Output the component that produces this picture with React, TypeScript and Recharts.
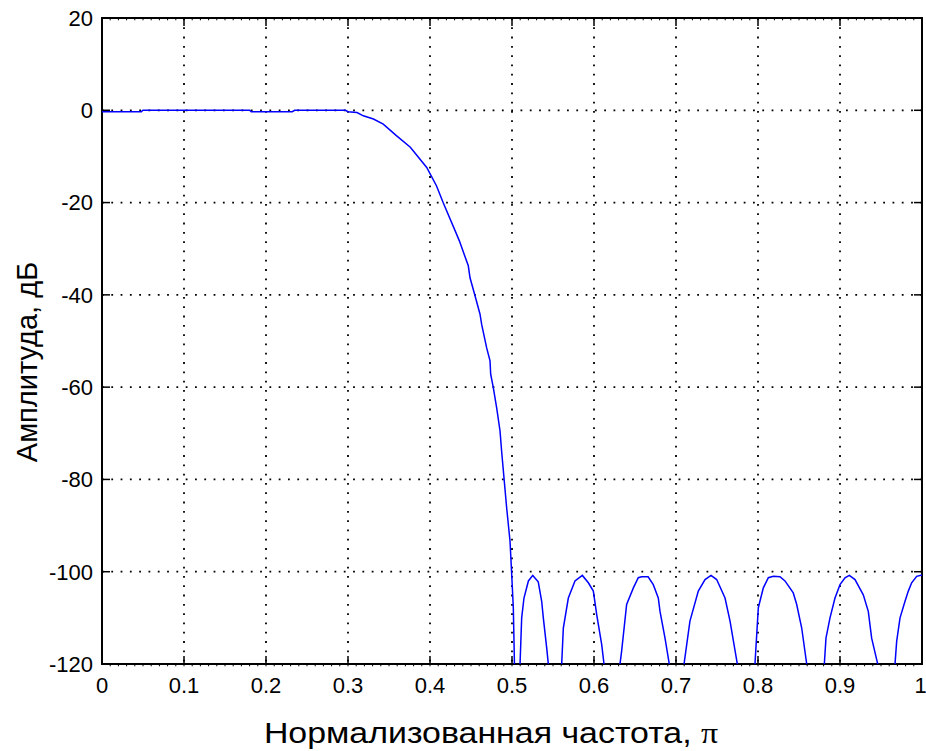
import React from 'react';
import {
  LineChart,
  Line,
  XAxis,
  YAxis,
  CartesianGrid,
  ReferenceLine,
  ReferenceArea,
} from 'recharts';

// Normalized frequency (x pi) and magnitude in dB.
// Values below -120 are the notches between stopband lobes (clipped).
const freq: number[] = [
  0, 0.048, 0.05, 0.18, 0.182, 0.232, 0.235, 0.297, 0.3, 0.311, 0.3187, 0.331,
  0.343, 0.359, 0.376, 0.396, 0.408, 0.416, 0.4325, 0.4358, 0.4467, 0.4488,
  0.4549, 0.461, 0.463, 0.4691, 0.4732, 0.474, 0.4772, 0.4813, 0.4854, 0.4874,
  0.4935, 0.4976, 0.4996, 0.5016, 0.503, 0.506,
  // lobe 1
  0.5098, 0.5118, 0.5146, 0.52, 0.5253, 0.532, 0.5362, 0.5382, 0.5423, 0.5443, 0.552,
  // lobe 2
  0.5606, 0.5626, 0.5687, 0.5768, 0.5858, 0.5931, 0.5992, 0.6033, 0.6094, 0.6122, 0.622,
  // lobe 3
  0.6317, 0.6337, 0.6398, 0.648, 0.654, 0.658, 0.666, 0.6723, 0.6784, 0.6805, 0.6866, 0.6918, 0.701,
  // lobe 4
  0.7098, 0.717, 0.7272, 0.7354, 0.7427, 0.7496, 0.7598, 0.7659, 0.7748, 0.786,
  // lobe 5
  0.7963, 0.8004, 0.8065, 0.8126, 0.8187, 0.8268, 0.8329, 0.843, 0.8472, 0.8533, 0.8594, 0.87,
  // lobe 6
  0.8809, 0.8829, 0.8878, 0.8939, 0.9, 0.9061, 0.9114, 0.9183, 0.9284, 0.9345, 0.9386, 0.946, 0.957,
  // lobe 7
  0.9671, 0.9691, 0.9732, 0.9793, 0.9833, 0.9874, 0.9935, 1.0,
];

const magnitudeDb: number[] = [
  -0.3, -0.3, 0, 0, -0.3, -0.3, 0, 0, -0.3, -0.5, -1.2, -1.9,
  -3, -5.5, -8, -12.4, -16.4, -20, -26.9, -28.3, -33.7, -36.3,
  -40.2, -44.2, -46.4, -51.5, -54.3, -57.2, -60.1, -64.5, -69.5, -74,
  -86.2, -93.4, -100.5, -107.8, -120, -160,
  -120, -110, -105.7, -102, -100.8, -102.2, -106.4, -110, -116.5, -120, -160,
  -120, -112.2, -105.7, -102, -100.8, -102.4, -104.2, -109.3, -115.8, -120, -160,
  -120, -117.2, -107.1, -103.5, -101.3, -101.1, -101.1, -102.8, -105.7, -108.6, -114.4, -120, -160,
  -120, -110.7, -104.2, -101.7, -100.8, -101.7, -105.7, -110.7, -120, -160,
  -120, -107.8, -103.5, -101.3, -101, -101.1, -102, -104.6, -107.1, -112.2, -120, -160,
  -120, -114.4, -110, -105.7, -102.8, -101.3, -100.8, -101.7, -105, -108.6, -114.4, -120, -160,
  -120, -115.1, -110, -106.4, -104.2, -102.4, -101, -100.7,
];

const xTicks = [0, 0.1, 0.2, 0.3, 0.4, 0.5, 0.6, 0.7, 0.8, 0.9, 1];
const yTicks = [-120, -100, -80, -60, -40, -20, 0, 20];
const xMinorTicks = Array.from({ length: 99 }, (_, i) => (i + 1) / 100);

const data = freq.map((f, i) => ({ f, db: magnitudeDb[i] }));

const FONT = '"Liberation Sans", Arial, sans-serif';
const Y_MIN = -120;
const Y_MAX = 20;
// inward tick length in data units (about 8px)
const TICK_DB = 1.74;
const TICK_X = 0.0098;

const XLabel = () => (
  <text
    x={491}
    y={733}
    transform="translate(491 0) scale(1.13 1) translate(-491 0)"
    textAnchor="middle"
    dominantBaseline="central"
    fontSize={30}
    fontFamily={FONT}
    fill="#000"
  >
    Нормализованная частота,{' '}
    <tspan fontFamily='"Liberation Serif", serif'>π</tspan>
  </text>
);

const YLabel = () => (
  <text
    x={27}
    y={362}
    transform="rotate(-90 27 362)"
    textAnchor="middle"
    dominantBaseline="central"
    fontSize={29}
    fontFamily={FONT}
    fill="#000"
  >
    Амплитуда, дБ
  </text>
);

const App: React.FC = () => {
  return (
    <div style={{ position: 'absolute', left: 0, top: 0, background: '#fff' }}>
      <LineChart
        width={926}
        height={751}
        data={data}
        margin={{ top: 18, right: 4, left: 0, bottom: 0 }}
      >
        <CartesianGrid
          stroke="#000"
          strokeWidth={1.8}
          strokeDasharray="1.8 7.5"
          horizontalValues={yTicks}
          verticalValues={xTicks}
        />
        <XAxis
          dataKey="f"
          type="number"
          domain={[0, 1]}
          ticks={xTicks}
          height={87}
          axisLine={false}
          tickLine={false}
          tickSize={0}
          tickMargin={13}
          tick={{ fontSize: 22, fill: '#000', fontFamily: FONT }}
          label={{ content: () => <XLabel /> }}
        />
        <YAxis
          type="number"
          domain={[Y_MIN, Y_MAX]}
          ticks={yTicks}
          allowDataOverflow
          width={102}
          axisLine={false}
          tickLine={false}
          tickSize={0}
          tickMargin={9}
          tick={{ fontSize: 22, fill: '#000', fontFamily: FONT }}
          label={{ content: () => <YLabel /> }}
        />
        <Line
          type="linear"
          dataKey="db"
          stroke="#0000ff"
          strokeWidth={1.5}
          dot={false}
          activeDot={false}
          isAnimationActive={false}
        />
        {xTicks.map((t) => (
          <ReferenceLine
            key={`xb${t}`}
            segment={[{ x: t, y: Y_MIN }, { x: t, y: Y_MIN + TICK_DB }]}
            stroke="#000"
            strokeWidth={1.5}
          />
        ))}
        {xTicks.map((t) => (
          <ReferenceLine
            key={`xt${t}`}
            segment={[{ x: t, y: Y_MAX }, { x: t, y: Y_MAX - TICK_DB }]}
            stroke="#000"
            strokeWidth={1.5}
          />
        ))}
        {yTicks.map((t) => (
          <ReferenceLine
            key={`yl${t}`}
            segment={[{ x: 0, y: t }, { x: TICK_X, y: t }]}
            stroke="#000"
            strokeWidth={1.5}
          />
        ))}
        {yTicks.map((t) => (
          <ReferenceLine
            key={`yr${t}`}
            segment={[{ x: 1, y: t }, { x: 1 - TICK_X, y: t }]}
            stroke="#000"
            strokeWidth={1.5}
          />
        ))}
        {xMinorTicks.map((t) => (
          <ReferenceLine
            key={`mb${t}`}
            ifOverflow="visible"
            segment={[{ x: t, y: Y_MIN }, { x: t, y: Y_MIN - 0.5 }]}
            stroke="#000"
            strokeWidth={1}
          />
        ))}
        {xMinorTicks.map((t) => (
          <ReferenceLine
            key={`mt${t}`}
            segment={[{ x: t, y: Y_MAX }, { x: t, y: Y_MAX - 0.5 }]}
            stroke="#000"
            strokeWidth={1}
          />
        ))}
        <ReferenceArea
          x1={0}
          x2={1}
          y1={Y_MIN}
          y2={Y_MAX}
          fill="none"
          fillOpacity={0}
          stroke="#000"
          strokeWidth={2}
          ifOverflow="visible"
        />
      </LineChart>
    </div>
  );
};

export default App;
